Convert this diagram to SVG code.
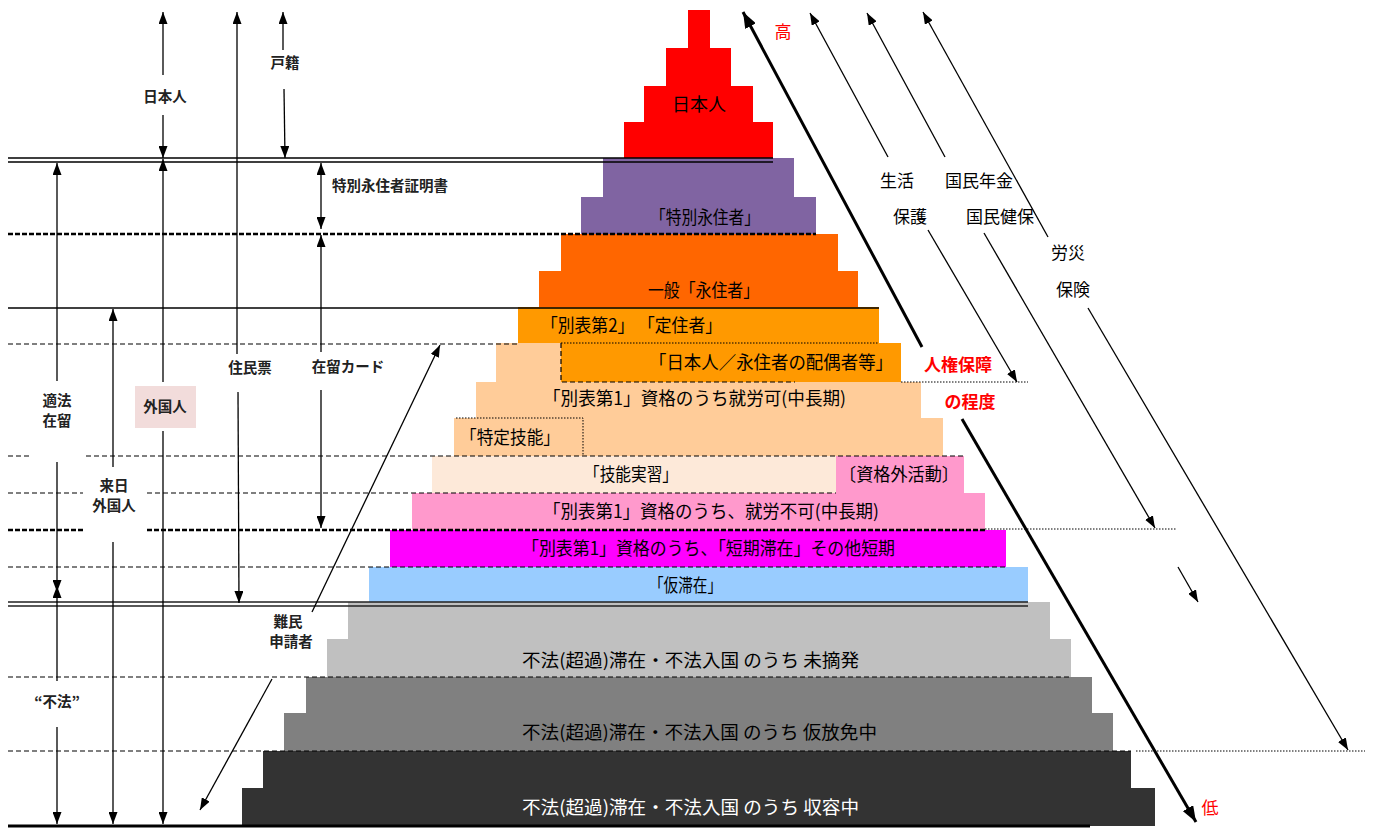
<svg xmlns="http://www.w3.org/2000/svg" width="1375" height="828" viewBox="0 0 1375 828">
<style>
text{font-family:"Noto Sans CJK JP","Noto Sans",sans-serif}
.t{font-size:18px;fill:#000}
.tw{font-size:18px;fill:#fff}
.lb{font-size:14.5px;font-weight:bold;fill:#222;text-anchor:middle}
.rl{font-size:17px;fill:#000;text-anchor:middle}
.red{fill:#ff0000}
.ln{stroke:#000;stroke-width:1.3;fill:none}
.dl{stroke:#000;stroke-width:1.2;stroke-dasharray:5,3;fill:none}
.db{stroke:#000;stroke-width:2.5;stroke-dasharray:5,2;fill:none}
.dt{stroke:#000;stroke-width:1;stroke-dasharray:1.5,1.5;fill:none}
.ar{stroke:#000;stroke-width:1.3;fill:none;marker-end:url(#ah)}
.ak{stroke:#000;stroke-width:3;fill:none;marker-end:url(#ahk)}
</style>
<defs>
<marker id="ah" viewBox="0 0 12 9" refX="12" refY="4.5" markerWidth="12" markerHeight="9" markerUnits="userSpaceOnUse" orient="auto-start-reverse"><path d="M0,0 L12,4.5 L0,9 z" fill="#000"/></marker>
<marker id="ahk" viewBox="0 0 16 12" refX="16" refY="6" markerWidth="16" markerHeight="12" markerUnits="userSpaceOnUse" orient="auto"><path d="M0,0 L16,6 L0,12 z" fill="#000"/></marker>
</defs>
<rect width="1375" height="828" fill="#fff"/>

<g id="n-japanese">
<path d="M688,10 H710 V48 H731 V86 H753 V122 H773 V158 H624 V122 H644 V86 H666 V48 H688 Z" fill="#ff0000"/>
<text class="t" x="699" y="111" text-anchor="middle" font-size="19">日本人</text>
</g>
<g id="n-special-permanent">
<path d="M603,158 H794 V197 H816 V234 H581 V197 H603 Z" fill="#8064a2"/>
<text class="t" x="650" y="224" textLength="110" lengthAdjust="spacingAndGlyphs">「特別永住者」</text>
</g>
<g id="n-permanent">
<path d="M561,234 H838 V271 H858 V307 H539 V271 H561 Z" fill="#ff6600"/>
<text class="t" x="648" y="297" textLength="111" lengthAdjust="spacingAndGlyphs">一般「永住者」</text>
</g>
<g id="n-long-term">
<rect x="518" y="307" width="361" height="36" fill="#ff9900"/>
<text class="t" x="541" y="332" textLength="181" lengthAdjust="spacingAndGlyphs">「別表第2」 「定住者」</text>
</g>
<g id="n-work-allowed">
<path d="M496,343 H901 V382 H921 V418 H943 V456 H454 V418 H476 V382 H496 Z" fill="#ffcc99"/>
<text class="t" x="543" y="405" textLength="303" lengthAdjust="spacingAndGlyphs">「別表第1」資格のうち就労可(中長期)</text>
</g>
<g id="n-spouse">
<rect x="561" y="343" width="340" height="39" fill="#ff9900"/>
<path class="dt" d="M561,343 H879"/>
<path class="dl" d="M561,343 V382 H795"/>
<text class="t" x="649" y="369" textLength="244" lengthAdjust="spacingAndGlyphs">「日本人／永住者の配偶者等」</text>
</g>
<g id="n-specified-skill">
<path class="dt" d="M456,418 H583 V456" stroke-width="1.5"/>
<text class="t" x="460" y="444" textLength="100" lengthAdjust="spacingAndGlyphs">「特定技能」</text>
</g>
<g id="n-trainee">
<rect x="432" y="456" width="404" height="37" fill="#fde9d9"/>
<text class="t" x="584" y="481" textLength="94" lengthAdjust="spacingAndGlyphs">「技能実習」</text>
</g>
<g id="n-extra-activity">
<rect x="836" y="456" width="128" height="37" fill="#ff99cc"/>
<text class="t" x="839" y="481" textLength="120" lengthAdjust="spacingAndGlyphs">〔資格外活動〕</text>
</g>
<g id="n-no-work">
<rect x="412" y="493" width="573" height="37" fill="#ff99cc"/>
<text class="t" x="543" y="518" textLength="336" lengthAdjust="spacingAndGlyphs">「別表第1」資格のうち、就労不可(中長期)</text>
</g>
<g id="n-short-term">
<rect x="390" y="530" width="616" height="37" fill="#ff00ff"/>
<text class="t" x="522" y="555" textLength="373" lengthAdjust="spacingAndGlyphs">「別表第1」資格のうち、「短期滞在」その他短期</text>
</g>
<g id="n-provisional">
<rect x="369" y="567" width="659" height="35" fill="#99ccff"/>
<text class="t" x="649" y="592" textLength="73" lengthAdjust="spacingAndGlyphs">「仮滞在」</text>
</g>
<g id="n-undetected">
<path d="M348,602 H1050 V639 H1071 V677 H327 V639 H348 Z" fill="#c0c0c0"/>
<text class="t" x="522" y="667" textLength="337" lengthAdjust="spacingAndGlyphs">不法(超過)滞在・不法入国 のうち 未摘発</text>
</g>
<g id="n-provisional-release">
<path d="M306,677 H1092 V713 H1113 V751 H284 V713 H306 Z" fill="#808080"/>
<text class="t" x="522" y="739" textLength="355" lengthAdjust="spacingAndGlyphs">不法(超過)滞在・不法入国 のうち 仮放免中</text>
</g>
<g id="n-detained">
<path d="M263,751 H1131 V788 H1155 V826 H242 V788 H263 Z" fill="#333333"/>
<text class="tw" x="522" y="814" textLength="337" lengthAdjust="spacingAndGlyphs">不法(超過)滞在・不法入国 のうち 収容中</text>
</g>

<g id="levels">
<path class="ln" d="M8,158 H773 M8,162 H773"/>
<path class="db" d="M8,234 H816"/>
<path class="ln" d="M8,308 H879"/>
<path class="dl" d="M8,344 H518"/>
<path class="dt" d="M901,382 H1028"/>
<path class="dl" d="M8,456 H30 M86,456 H964"/>
<path class="dl" d="M8,493 H83 M147,493 H836"/>
<path class="db" d="M8,530 H83 M147,530 H985"/>
<path class="dt" d="M985,529 H1176"/>
<path class="dl" d="M8,567 H1006"/>
<path d="M8,602 H1028 M8,606 H1028" stroke="#222" stroke-width="1.5"/>
<path class="dl" d="M8,677 H1070"/>
<path class="dl" d="M8,751 H1131"/>
<path class="dt" d="M1136,751 H1365"/>
<path d="M8,826 H1090" stroke="#000" stroke-width="3"/>
</g>

<g id="connectors">
<path class="ar" d="M57,381 L57,163"/>
<path class="ar" d="M57,462 L57,592"/>
<path class="ar" d="M57,681 L57,586"/>
<path class="ar" d="M57,727 L57,824"/>
<path class="ar" d="M113,467 L113,309"/>
<path class="ar" d="M113,542 L113,824"/>
<path class="ar" d="M163,75 L163,12"/>
<path class="ar" d="M163,115 L163,158"/>
<path class="ar" d="M163,382 L163,159"/>
<path class="ar" d="M163,431 L163,824"/>
<path class="ar" d="M237,354 L237,12"/>
<path class="ar" d="M238,392 L239,603"/>
<path class="ar" d="M283,50 L283,12"/>
<path class="ar" d="M284,89 L285,158"/>
<path class="ar" d="M321,163 L321,229" marker-start="url(#ah)"/>
<path class="ar" d="M321,352 L321,235"/>
<path class="ar" d="M321,390 L321,528"/>
<path class="ar" d="M312,612 L440,345"/>
<path class="ar" d="M272,679 L200,810"/>
<path class="ak" d="M922,347 L743,12"/>
<path class="ak" d="M962,419 L1196,822"/>
<path class="ar" d="M888,157 L810,13"/>
<path class="ar" d="M928,230 L1017,382"/>
<path class="ar" d="M945,157 L867,13"/>
<path class="ar" d="M984,233 L1155,528"/>
<path class="ar" d="M1178,567 L1198,602"/>
<path class="ar" d="M1048,237 L923,12"/>
<path class="ar" d="M1088,308 L1348,750"/>
</g>

<g id="labels">
<text class="lb" x="165" y="102">日本人</text>
<text class="lb" x="285" y="68">戸籍</text>
<text class="lb" x="332" y="191" style="text-anchor:start">特別永住者証明書</text>
<text class="lb" x="250" y="373">住民票</text>
<text class="lb" x="348" y="372">在留カード</text>
<rect x="135" y="386" width="61" height="42" fill="#f2dcdb"/>
<text class="lb" x="165" y="412">外国人</text>
<text class="lb" x="57" y="406">適法</text>
<text class="lb" x="57" y="426">在留</text>
<text class="lb" x="114" y="491">来日</text>
<text class="lb" x="114" y="511">外国人</text>
<text class="lb" x="57" y="707">“不法”</text>
<text class="lb" x="288" y="627">難民</text>
<text class="lb" x="291" y="647">申請者</text>
<text class="rl" x="897" y="187">生活</text>
<text class="rl" x="910" y="223">保護</text>
<text class="rl" x="979" y="187">国民年金</text>
<text class="rl" x="1000" y="223">国民健保</text>
<text class="rl" x="1068" y="259">労災</text>
<text class="rl" x="1073" y="296">保険</text>
<text class="rl red" x="783" y="38">高</text>
<text class="rl red" x="958" y="371" font-weight="bold" font-size="17">人権保障</text>
<text class="rl red" x="970" y="408" font-weight="bold" font-size="17">の程度</text>
<text class="rl red" x="1210" y="814" font-size="18">低</text>
</g>
</svg>
